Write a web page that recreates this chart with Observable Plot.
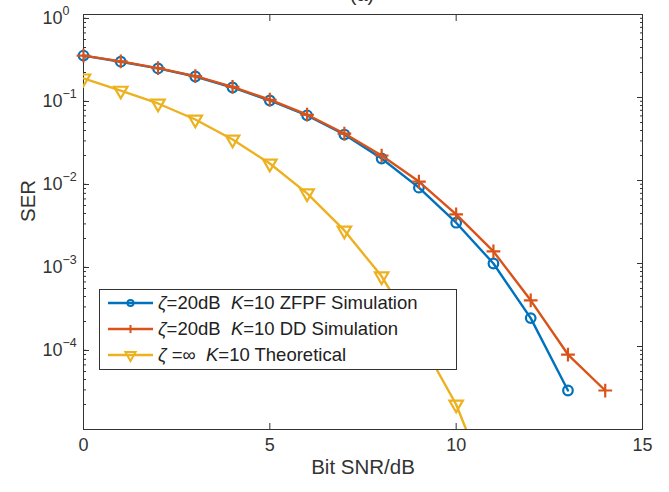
<!DOCTYPE html>
<html><head><meta charset="utf-8">
<script src="https://cdn.jsdelivr.net/npm/d3@7"></script>
<script src="https://cdn.jsdelivr.net/npm/@observablehq/plot@0.6"></script>
<style>
body{margin:0;background:#fff}
svg{font-family:"Liberation Sans",Arial,sans-serif}
</style>
</head><body><div id="chart"></div>
<script>
// ---- data ----
const zfpfSNR = [0,1,2,3,4,5,6,7,8,9,10,11,12,13];
const zfpfSER = [0.32,0.27,0.224,0.179,0.132,0.092,0.061,0.0358,0.0184,0.0082,0.0031,0.001,2.2e-4,2.95e-5];
const ddSNR = [0,1,2,3,4,5,6,7,8,9,10,11,12,13,14];
const ddSER = [0.32,0.272,0.226,0.181,0.134,0.094,0.062,0.0368,0.020,0.0097,0.0039,0.0014,3.6e-4,8.0e-5,2.95e-5];
const theoSNR = [0,1,2,3,4,5,6,7,8,9,10,11];
const theoSER = [0.17,0.121,0.0847,0.0543,0.0312,0.016,0.007,0.0025,7.0e-4,1.28e-4,2.0e-5,1.5e-6];
const xTicks = [0,5,10,15];
const yTicks = [1,0.1,0.01,1e-3,1e-4];
const yTickExp = ["0","\u22121","\u22122","\u22123","\u22124"];
const yMinor = [];
for (const d of [1,0.1,0.01,1e-3,1e-4,1e-5]) for (let m=2;m<=9;m++) if (d*m<1) yMinor.push(d*m);
const colors = ["#0072BD","#D95319","#EDB120"];
const xLabel = "Bit SNR/dB";
const yLabel = "SER";
const title = "(a)";

const zfpf = zfpfSNR.map((x,i)=>({x, y:zfpfSER[i]}));
const dd = ddSNR.map((x,i)=>({x, y:ddSER[i]}));
const theo = theoSNR.map((x,i)=>({x, y:theoSER[i]}));
const supers = yTicks.map((y,i)=>({y, e: yTickExp[i]}));

const axisColor = "#333";
const chart = Plot.plot({
  width: 669, height: 492,
  marginLeft: 83, marginRight: 27, marginTop: 14, marginBottom: 63,
  x: {domain: [0, 15]},
  y: {type: "log", domain: [1e-5, 1]},
  style: {fontFamily: "'Liberation Sans', Arial, sans-serif", fontSize: "18px", color: axisColor, background: "white", overflow: "visible"},
  marks: [
    Plot.frame({stroke: axisColor, strokeWidth: 1}),
    // x axes
    Plot.axisX({anchor: "bottom", ticks: xTicks, tickSize: -6, tickPadding: 15, tickFormat: d => String(d), label: null, stroke: axisColor, fill: axisColor}),
    Plot.axisX({anchor: "top", ticks: xTicks, tickSize: -6, text: null, label: null, stroke: axisColor}),
    // y axes major
    Plot.axisY({anchor: "left", ticks: yTicks, tickSize: -6, tickPadding: 27, tickFormat: () => "10", dy: 4, label: null, stroke: axisColor, fill: axisColor}),
    Plot.text(supers, {x: () => 0, y: "y", text: "e", textAnchor: "start", dx: -21, dy: -4, fontSize: 12.5, fill: axisColor}),
    Plot.axisY({anchor: "right", ticks: yTicks, tickSize: -6, text: null, label: null, stroke: axisColor}),
    // y minor ticks
    Plot.axisY({anchor: "left", ticks: yMinor, tickSize: -3, text: null, label: null, stroke: axisColor}),
    Plot.axisY({anchor: "right", ticks: yMinor, tickSize: -3, text: null, label: null, stroke: axisColor}),
    // axis labels
    Plot.text([xLabel], {frameAnchor: "bottom", dy: 44, text: d => d, fontSize: 20.5, fill: axisColor}),
    Plot.text([yLabel], {frameAnchor: "left", dx: -55, rotate: -90, text: d => d, fontSize: 20.5, fill: axisColor}),
    Plot.text([title], {frameAnchor: "top", dx: -1, dy: -28, text: d => d, fontSize: 20, fill: axisColor}),
    // series
    Plot.line(zfpf, {x: "x", y: "y", stroke: colors[0], strokeWidth: 2.4}),
    Plot.dot(zfpf, {x: "x", y: "y", stroke: colors[0], r: 4.8, strokeWidth: 2.2, fill: "none"}),
    Plot.line(dd, {x: "x", y: "y", stroke: colors[1], strokeWidth: 2.4}),
    Plot.dot(dd, {x: "x", y: "y", stroke: colors[1], symbol: "plus", r: 4.5, strokeWidth: 2.2}),
    Plot.line(theo, {x: "x", y: "y", stroke: colors[2], strokeWidth: 2.4, clip: true}),
    Plot.dot(theo, {x: "x", y: "y", stroke: colors[2], symbol: "triangle", rotate: 180, r: 5, strokeWidth: 2.2, fill: "none", clip: true})
  ]
});
document.getElementById("chart").appendChild(chart);
const svg = d3.select(chart);

// legend
const lg = svg.append("g").attr("font-size", 18.5).attr("fill", "#222").attr("text-anchor", "start");
lg.append("rect").attr("x", 99.5).attr("y", 289.5).attr("width", 357).attr("height", 80)
  .attr("fill", "white").attr("stroke", axisColor).attr("stroke-width", 1);
const rows = [
  {pre: "=20dB  ", post: "=10 ZFPF Simulation"},
  {pre: "=20dB  ", post: "=10 DD Simulation"},
  {pre: " =\u221E  ", post: "=10 Theoretical"}
];
rows.forEach((r, i) => {
  const y = 303 + i * 26;
  lg.append("line").attr("x1", 108).attr("x2", 153).attr("y1", y).attr("y2", y)
    .attr("stroke", colors[i]).attr("stroke-width", 2.4);
  if (i === 0) lg.append("circle").attr("cx", 130.5).attr("cy", y).attr("r", 3).attr("fill", "none").attr("stroke", colors[i]).attr("stroke-width", 2);
  if (i === 1) lg.append("path").attr("d", `M126.5,${y}h8M130.5,${y-4}v8`).attr("stroke", colors[i]).attr("stroke-width", 2);
  if (i === 2) lg.append("path").attr("d", d3.symbol(d3.symbolTriangle, 45)()).attr("transform", `translate(130.5,${y}) rotate(180)`).attr("fill", "none").attr("stroke", colors[i]).attr("stroke-width", 2);
  const t = lg.append("text").attr("x", 158).attr("y", y).attr("dy", "0.35em").attr("text-anchor", "start").style("white-space", "pre");
  t.append("tspan").attr("font-style", "italic").text("\u03B6");
  t.append("tspan").text(r.pre);
  t.append("tspan").attr("font-style", "italic").text("K");
  t.append("tspan").text(r.post);
});
</script>
</body></html>
